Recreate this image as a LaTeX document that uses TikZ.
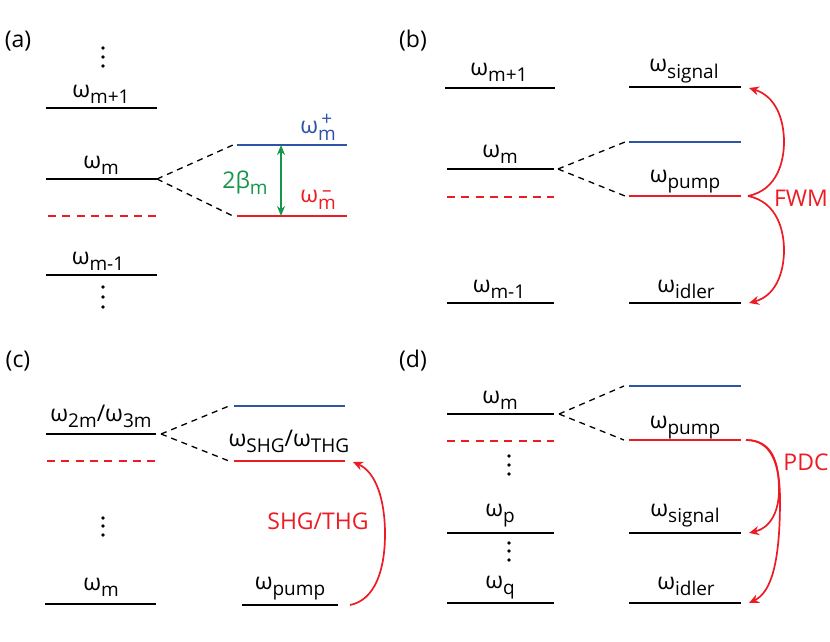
\documentclass[tikz,border=0pt]{standalone}
\usepackage{fontspec}
\setmainfont{Open Sans}
\usetikzlibrary{arrows.meta}
\definecolor{lred}{RGB}{237,28,36}
\definecolor{lblue}{RGB}{46,84,165}
\definecolor{lgreen}{RGB}{20,150,75}
\newcommand\subsz{\fontsize{19}{19}\selectfont}
\newlength\mwid
\newcommand\wsub[1]{ω\raisebox{-6pt}{\subsz #1}}
\newcommand\wstack[3]{ω\settowidth\mwid{\subsz m}\raisebox{-7pt}{\subsz m}\hspace{-\mwid}\raisebox{#3}{\makebox[\mwid]{\subsz #1}}}
\tikzset{
  level/.style={line width=2.7pt, line cap=butt},
  redlevel/.style={level, lred},
  bluelevel/.style={level, lblue, line width=2.3pt},
  dlevel/.style={level, lred, dash pattern=on 8pt off 6.3pt},
  conn/.style={line width=1.3pt, dash pattern=on 6pt off 5pt},
  lbl/.style={anchor=base, inner sep=0pt, font=\fontsize{23}{23}\selectfont},
  panel/.style={inner sep=0pt, font=\fontsize{23}{23}\selectfont},
  proc/.style={lred, line width=1.7pt, -{Stealth[length=10pt,width=9pt]}},
  dotm/.style={fill=black}
}
\begin{document}
\begin{tikzpicture}[x=1pt,y=-1pt]
\useasboundingbox (0,0) rectangle (830,642);

% ---------------- panel (a)
\node[panel] (pa) at (18,41) {(a)};
\coordinate (a1w) at (46,108); \coordinate (a1e) at (157,108);
\coordinate (a2w) at (46,179); \coordinate (a2e) at (157,179);
\coordinate (a3w) at (48,216); \coordinate (a3e) at (157,216);
\coordinate (a4w) at (46,275); \coordinate (a4e) at (157,275);
\coordinate (apw) at (237,145); \coordinate (ape) at (347,145);
\coordinate (amw) at (237,216); \coordinate (ame) at (347,216);
\coordinate (ga) at (281,145); \coordinate (gb) at (281,216);
\draw[level] (a1w) -- (a1e);
\draw[level] (a2w) -- (a2e);
\draw[dlevel] (a3w) -- (a3e);
\draw[level] (a4w) -- (a4e);
\draw[bluelevel] (apw) -- (ape);
\draw[redlevel] (amw) -- (ame);
\draw[conn] (a2e) -- ([xshift=-4pt]apw);
\draw[conn] (a2e) -- ([xshift=-4pt]amw);
\draw[lgreen, line width=1.5pt, {Stealth[length=10pt,width=8pt]}-{Stealth[length=10pt,width=8pt]}] (ga) -- (gb);
\node[lbl] (la1) at (101,97) {\wsub{m+1}};
\node[lbl] (la2) at (101,168) {\wsub{m}};
\node[lbl] (la4) at (98,264) {\wsub{m-1}};
\node[lbl, text=lblue] (lap) at (318,133) {\wstack{+}{m}{8pt}};
\node[lbl, text=lred] (lam) at (318,202) {\wstack{–}{m}{6pt}};
\node[lbl, text=lgreen] (lab) at (245,188) {2β\raisebox{-6pt}{\subsz m}};
\foreach \yy in {48,57,66,287,297,307} \fill[dotm] (103,\yy) circle (1.9pt);

% ---------------- panel (b)
\node[panel] (pb) at (413,41) {(b)};
\coordinate (b1w) at (445,88); \coordinate (b1e) at (555,88);
\coordinate (b2w) at (447,169); \coordinate (b2e) at (554,169);
\coordinate (b3w) at (447,197); \coordinate (b3e) at (554,197);
\coordinate (b4w) at (447,303); \coordinate (b4e) at (554,303);
\coordinate (bsw) at (629,87); \coordinate (bse) at (741,87);
\coordinate (bbw) at (629,142); \coordinate (bbe) at (741,142);
\coordinate (bpw) at (629,196); \coordinate (bpe) at (741,196);
\coordinate (biw) at (629,303); \coordinate (bie) at (741,303);
\coordinate (bfs) at (748,196);
\coordinate (bft) at (749,88);
\coordinate (bfb) at (749,303);
\draw[level] (b1w) -- (b1e);
\draw[level] (b2w) -- (b2e);
\draw[dlevel] (b3w) -- (b3e);
\draw[level] (b4w) -- (b4e);
\draw[level] (bsw) -- (bse);
\draw[bluelevel] (bbw) -- (bbe);
\draw[redlevel] (bpw) -- (bpe);
\draw[level] (biw) -- (bie);
\draw[conn] ([xshift=4pt]b2e) -- ([xshift=-4pt]bbw);
\draw[conn] ([xshift=4pt]b2e) -- ([xshift=-4pt]bpw);
\draw[proc] (bfs) .. controls (778,190) and (784,160) .. (784,142) .. controls (784,118) and (775,96) .. (bft);
\draw[proc] (bfs) .. controls (778,202) and (784,232) .. (784,250) .. controls (784,274) and (775,296) .. (bfb);
\node[lbl] (lb1) at (499,75) {\wsub{m+1}};
\node[lbl] (lb2) at (500,157) {\wsub{m}};
\node[lbl] (lb4) at (499,292) {\wsub{m-1}};
\node[lbl] (lbs) at (684,72) {\wsub{signal}};
\node[lbl] (lbp) at (685,182) {\wsub{pump}};
\node[lbl] (lbi) at (686,292) {\wsub{idler}};
\node[panel, text=lred] (fwm) at (801,198) {FWM};

% ---------------- panel (c)
\node[panel] (pc) at (18,361) {(c)};
\coordinate (c1w) at (46,434); \coordinate (c1e) at (156,434);
\coordinate (c2w) at (47,461); \coordinate (c2e) at (156,461);
\coordinate (c3w) at (45,604); \coordinate (c3e) at (156,604);
\coordinate (cbw) at (234,406); \coordinate (cbe) at (345,406);
\coordinate (crw) at (234,461); \coordinate (cre) at (345,461);
\coordinate (cpw) at (242,605); \coordinate (cpe) at (338,605);
\coordinate (cas) at (350,605);
\coordinate (cat) at (353,462);
\draw[level] (c1w) -- (c1e);
\draw[dlevel] (c2w) -- (c2e);
\draw[level] (c3w) -- (c3e);
\draw[bluelevel] (cbw) -- (cbe);
\draw[redlevel] (crw) -- (cre);
\draw[level] (cpw) -- (cpe);
\draw[conn] ([xshift=5pt]c1e) -- ([xshift=-5pt]cbw);
\draw[conn] ([xshift=5pt]c1e) -- ([xshift=-5pt]crw);
\draw[proc] (cas) .. controls (375,600) and (385,570) .. (385,534) .. controls (385,500) and (376,472) .. (cat);
\node[lbl] (lc1) at (101,421) {\wsub{2m}/\wsub{3m}};
\node[lbl] (lc3) at (101,590) {\wsub{m}};
\node[lbl] (lcs) at (289,446) {\wsub{SHG}/\wsub{THG}};
\node[lbl] (lcp) at (290,589) {\wsub{pump}};
\node[panel, text=lred] (shg) at (318,521) {SHG/THG};
\foreach \yy in {518,526,535} \fill[dotm] (103,\yy) circle (1.9pt);

% ---------------- panel (d)
\node[panel] (pd) at (413,361) {(d)};
\coordinate (d1w) at (447,414); \coordinate (d1e) at (554,414);
\coordinate (d2w) at (447,441); \coordinate (d2e) at (554,441);
\coordinate (d3w) at (447,533); \coordinate (d3e) at (554,533);
\coordinate (d4w) at (447,603); \coordinate (d4e) at (554,603);
\coordinate (dbw) at (629,386); \coordinate (dbe) at (741,386);
\coordinate (dpw) at (629,440); \coordinate (dpe) at (741,440);
\coordinate (dsw) at (629,533); \coordinate (dse) at (741,533);
\coordinate (diw) at (629,603); \coordinate (die) at (741,603);
\coordinate (dfs) at (746,440);
\coordinate (dft) at (749,533);
\coordinate (dfb) at (749,603);
\draw[level] (d1w) -- (d1e);
\draw[dlevel] (d2w) -- (d2e);
\draw[level] (d3w) -- (d3e);
\draw[level] (d4w) -- (d4e);
\draw[bluelevel] (dbw) -- (dbe);
\draw[redlevel] (dpw) -- (dpe);
\draw[level] (dsw) -- (dse);
\draw[level] (diw) -- (die);
\draw[conn] ([xshift=5pt]d1e) -- ([xshift=-5pt]dbw);
\draw[conn] ([xshift=5pt]d1e) -- ([xshift=-5pt]dpw);
\draw[proc] (dfs) .. controls (772,440) and (779,462) .. (779,490) .. controls (779,512) and (770,528) .. (dft);
\draw[proc] (dfs) .. controls (772,440) and (780,465) .. (780,500) .. controls (780,560) and (772,592) .. (dfb);
\node[lbl] (ld1) at (500,403) {\wsub{m}};
\node[lbl] (ld3) at (500,516) {\wsub{p}};
\node[lbl] (ld4) at (500,588) {\wsub{q}};
\node[lbl] (ldp) at (685,428) {\wsub{pump}};
\node[lbl] (lds) at (685,516) {\wsub{signal}};
\node[lbl] (ldi) at (686,589) {\wsub{idler}};
\node[panel, text=lred] (pdc) at (806,462) {PDC};
\foreach \yy in {456,465,474,543,551,560} \fill[dotm] (509,\yy) circle (1.9pt);
\end{tikzpicture}
\end{document}
